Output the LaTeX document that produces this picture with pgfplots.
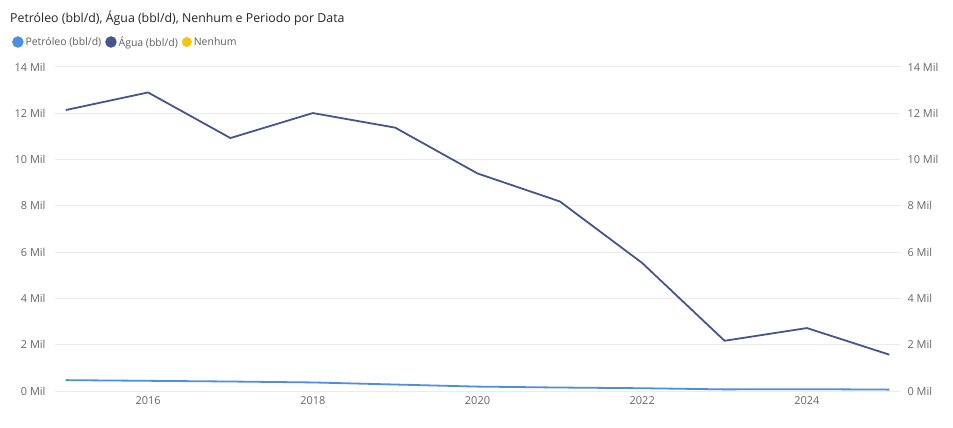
\documentclass[border=0pt]{standalone}
\usepackage{pgfplots}
\pgfplotsset{compat=1.18}
\usepackage{fontspec}
\setmainfont{Open Sans}
\definecolor{petro}{HTML}{4A8FE0}
\definecolor{agua}{HTML}{44568B}
\definecolor{nenhum}{HTML}{F2C80F}
\definecolor{tickgray}{HTML}{666666}
\definecolor{leggray}{HTML}{605E5C}
\definecolor{titlecol}{HTML}{252423}
\definecolor{gridgray}{HTML}{EBEBEB}
\begin{document}
\begin{tikzpicture}[x=1bp,y=1bp]
\path (0,0) rectangle (953,427);
\node[anchor=west, text=titlecol, font=\fontsize{12.4}{14}\selectfont, inner sep=0pt] at (10,409) {Petróleo (bbl/d), Água (bbl/d), Nenhum e Periodo por Data};
\begin{axis}[
  at={(55bp,36bp)}, anchor=south west,
  scale only axis, width=845bp, height=324bp,
  xmin=2014.87, xmax=2025.13, ymin=0, ymax=14,
  axis line style={draw=none},
  xtick={2016,2018,2020,2022,2024},
  xticklabels={2016,2018,2020,2022,2024},
  ytick={0,2,4,6,8,10,12,14},
  yticklabels={0 Mil,2 Mil,4 Mil,6 Mil,8 Mil,10 Mil,12 Mil,14 Mil},
  ymajorgrids, grid style={gridgray, line width=1bp},
  major tick style={draw=none},
  tick label style={font=\fontsize{11}{13}\selectfont, text=tickgray},
  yticklabel style={xshift=-6bp},
  xticklabel style={yshift=-2bp},
  clip=false,
  legend columns=-1,
  legend style={at={(-0.0509,1.0772)}, anchor=west, draw=none, fill=none,
    font=\fontsize{10.5}{12}\selectfont, text=leggray, inner sep=0pt,
    /tikz/every even column/.append style={column sep=2bp},
    /tikz/every odd column/.append style={column sep=0bp}},
  legend cell align=left,
  legend image code/.code={\fill[#1] (0bp,0bp) circle (4.8bp);},
]
\addplot[petro, line width=1.8bp] coordinates {
(2015,0.47) (2016,0.44) (2017,0.41) (2018,0.37) (2019,0.28) (2020,0.19)
(2021,0.15) (2022,0.12) (2023,0.07) (2024,0.08) (2025,0.06)};
\addlegendentry{Petróleo (bbl/d)}
\addplot[agua, line width=1.8bp] coordinates {
(2015,12.14) (2016,12.90) (2017,10.93) (2018,12.01) (2019,11.38) (2020,9.40)
(2021,8.19) (2022,5.53) (2023,2.17) (2024,2.72) (2025,1.57)};
\addlegendentry{Água (bbl/d)}
\addlegendimage{nenhum}
\addlegendentry{Nenhum}
\end{axis}
\begin{axis}[
  at={(55bp,36bp)}, anchor=south west,
  scale only axis, width=845bp, height=324bp,
  xmin=2014.87, xmax=2025.13, ymin=0, ymax=14,
  axis y line*=right, axis x line=none,
  axis line style={draw=none},
  ytick={0,2,4,6,8,10,12,14},
  yticklabels={0 Mil,2 Mil,4 Mil,6 Mil,8 Mil,10 Mil,12 Mil,14 Mil},
  major tick style={draw=none},
  tick label style={font=\fontsize{11}{13}\selectfont, text=tickgray},
  yticklabel style={xshift=4bp},
]
\end{axis}
\end{tikzpicture}
\end{document}
